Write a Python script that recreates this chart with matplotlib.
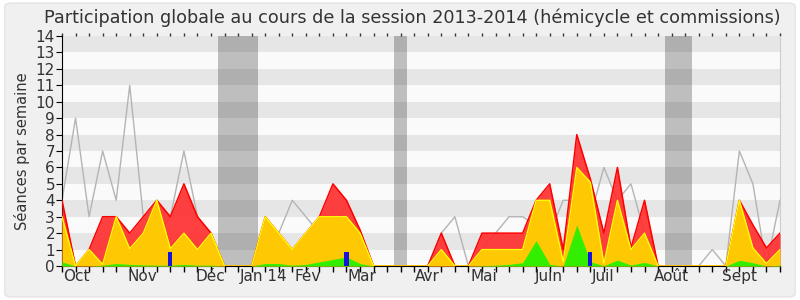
import numpy as np
import matplotlib
matplotlib.use('Agg')
import matplotlib.pyplot as plt
from matplotlib.patches import FancyBboxPatch

# donnees hebdomadaires (semaines 0..53)
presences = [4, 0, 1, 3, 3, 2, 3, 4, 3, 5, 3, 2, 0, 0, 0, 3, 2, 1, 2, 3, 5, 4, 2.2, 0, 0, 0, 0, 0,
             2, 0, 0, 2, 2, 2, 2, 4, 5, 1, 8, 5.3, 2, 6, 1.1, 4, 0, 0, 0, 0, 0, 0, 4, 2.5, 1.1, 2]
hemicycle = [3, 0, 1, 0.1, 3, 1.05, 2, 4, 1.05, 2, 1, 2, 0, 0, 0, 3, 2, 1, 2, 3, 3, 3, 2, 0, 0, 0, 0, 0,
             1, 0, 0, 1, 1, 1, 1, 4, 4, 0.25, 6, 5.1, 0.15, 4, 1, 2, 0, 0, 0, 0, 0, 0, 4, 1.1, 0.15, 1]
commissions = [0.25, 0, 0, 0.05, 0.15, 0.1, 0.07, 0.05, 0.05, 0.1, 0.05, 0.05, 0, 0, 0, 0.15, 0.15, 0.05,
               0.1, 0.25, 0.4, 0.55, 0.15, 0, 0, 0, 0, 0, 0, 0, 0, 0.02, 0.05, 0.1, 0.2, 1.55, 0.1, 0,
               2.5, 0.26, 0.02, 0.36, 0.06, 0.22, 0, 0, 0, 0, 0, 0, 0.35, 0.2, 0, 0.05]
mediane = [4, 9, 3, 7, 4, 11, 3, 2, 3, 7, 3, 2, 0, 0, 0, 0, 2, 4, 3, 2, 2, 4, 2, 0, 0, 0, 0, 0,
           2, 3, 0, 1, 2, 3, 3, 2.5, 2, 4, 4, 3, 6, 4, 5, 2, 0, 0, 0, 0, 1, 0, 7, 5, 0, 4]
questions_semaines = [8, 21, 39]
questions_valeurs = [0.85, 0.85, 0.85]
vacances = [(11.5, 14.5), (24.5, 25.5), (44.5, 46.5)]
mois = ['Oct', 'Nov', 'Déc', 'Jan 14', 'Fév', 'Mar', 'Avr', 'Mai', 'Juin', 'Juil', 'Août', 'Sept']
mois_pos = [1.08, 5.93, 10.97, 14.87, 18.17, 22.13, 26.96, 31.14, 35.94, 39.96, 44.98, 50.04]

semaines = np.arange(len(presences))

fig = plt.figure(figsize=(8, 3), dpi=100, facecolor='white')
fig.patches.append(FancyBboxPatch((0.006, 0.01), 0.988, 0.98, boxstyle='round,pad=0,rounding_size=0.01',
                                  transform=fig.transFigure, facecolor='#f0f0f0', edgecolor='#e4e4e4',
                                  linewidth=1, zorder=-10))
ax = fig.add_axes([0.0775, 0.1133, 0.8975, 0.7667])
ax.set_facecolor('#fafafa')

# bandes horizontales
for k in range(1, 14, 2):
    ax.axhspan(k, k + 1, color='#e6e6e6', linewidth=0, zorder=0)
# vacances parlementaires
for a, b in vacances:
    ax.axvspan(a, b, color='black', alpha=0.24, linewidth=0, zorder=1)

ax.plot(semaines, mediane, color='#b4b4b4', linewidth=1, zorder=2)
ax.fill_between(semaines, 0, presences, color='#ff3030', alpha=0.92, linewidth=0, zorder=3)
ax.plot(semaines, presences, color='#ff0000', linewidth=1.1, zorder=3)
ax.fill_between(semaines, 0, hemicycle, color='#ffd000', alpha=0.95, linewidth=0, zorder=4)
ax.plot(semaines, hemicycle, color='#ffff00', linewidth=1, zorder=4)
ax.fill_between(semaines, 0, commissions, color='#33ee00', linewidth=0, zorder=5)
ax.bar(questions_semaines, questions_valeurs, width=0.3, color='#1414dd', zorder=6)

ax.set_xlim(0, len(presences) - 1)
ax.set_ylim(0, 14)
ax.set_yticks(range(0, 15))
ax.set_xticks(semaines)
ax.set_xticklabels([])
ax.set_xticks(mois_pos, minor=True)
ax.set_xticklabels(mois, minor=True)
ax.tick_params(axis='x', which='major', direction='out', length=4, width=1, color='black')
ax.tick_params(axis='x', which='minor', length=0, labelsize=11, labelcolor='#333333', pad=2)
ax.tick_params(axis='y', direction='out', length=4, labelsize=11, labelcolor='#333333', pad=1)

top = ax.secondary_xaxis('top')
top.set_xticks(semaines)
top.set_xticklabels([])
top.tick_params(length=2, width=1, color='#333333')
top.spines['top'].set_visible(False)

ax.spines['top'].set_visible(False)
ax.spines['right'].set_color('#cccccc')
ax.spines['left'].set_color('black')
ax.spines['bottom'].set_color('black')

ax.set_ylabel('Séances par semaine', fontsize=10.5, color='#333333', labelpad=4)
fig.text(0.515, 0.94, 'Participation globale au cours de la session 2013-2014 (hémicycle et commissions)',
         ha='center', va='center', fontsize=12.7, color='#333333')

plt.savefig('out.png', dpi=100, facecolor=fig.get_facecolor())
plt.close()
